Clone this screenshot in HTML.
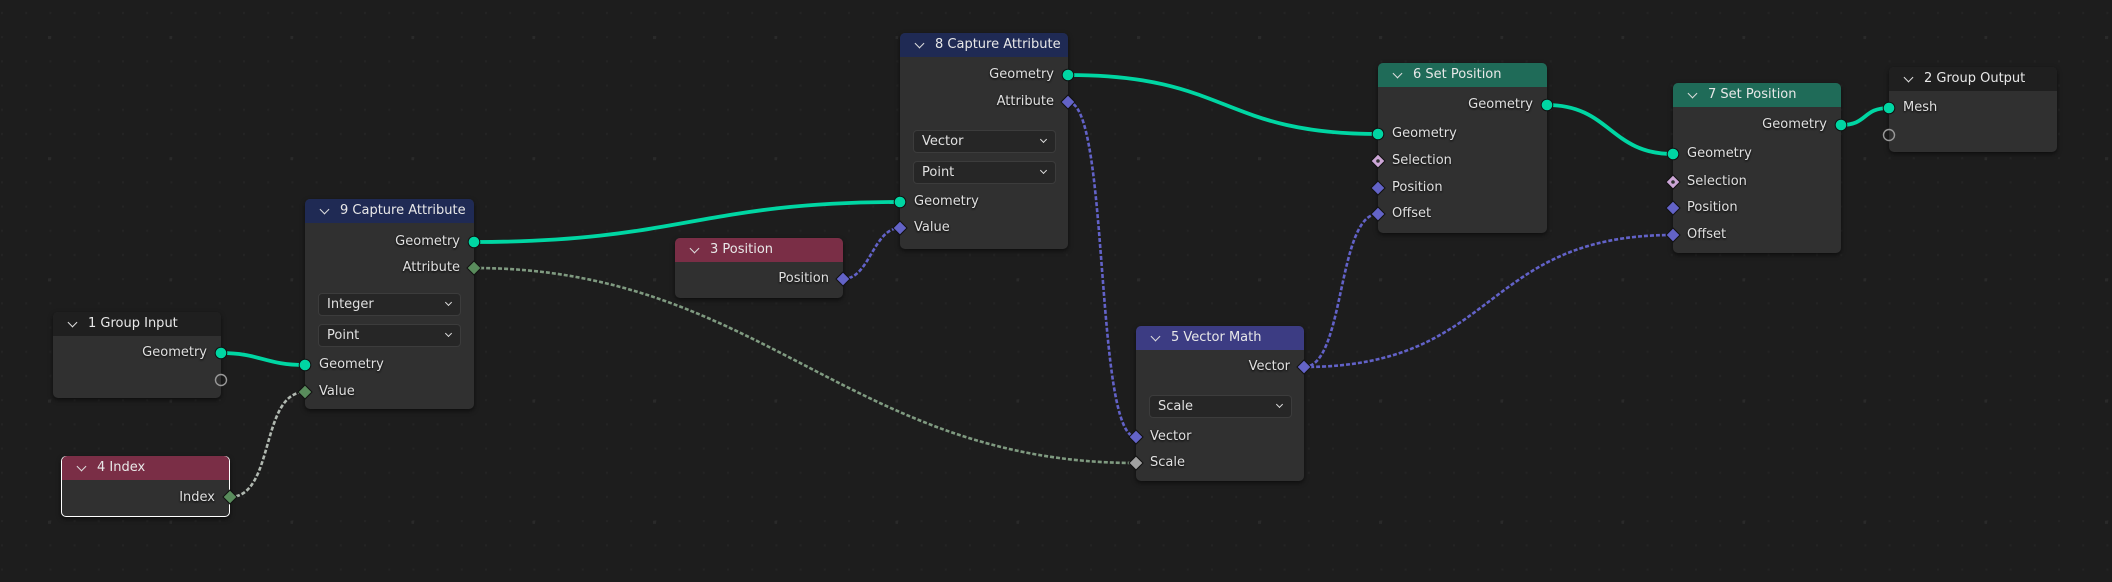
<!DOCTYPE html>
<html><head><meta charset="utf-8"><style>
*{margin:0;padding:0;box-sizing:border-box}
body{width:2112px;height:582px;background:#1d1d1d;overflow:hidden;position:relative;font-family:"DejaVu Sans","Liberation Sans",sans-serif;font-size:13px;color:#e0e0e0}
svg{position:absolute;left:0;top:0}
.n{position:absolute;background:#303030;border-radius:5px;box-shadow:0 2px 5px rgba(0,0,0,.55)}
.h{position:absolute;left:0;right:0;top:0;height:24px;border-radius:5px 5px 0 0;padding-left:35px;line-height:24px;font-size:13px;color:#e8e8e8}
.h:before{content:"";position:absolute;left:16px;top:7px;width:6px;height:6px;border-right:1.5px solid #ddd;border-bottom:1.5px solid #ddd;transform:rotate(45deg)}
.t{position:absolute;line-height:16px;white-space:nowrap;text-shadow:0 1px 2px #000}
.r{text-align:right}
.d{position:absolute;background:#262626;border:1px solid #3c3c3c;border-radius:4px;height:23px;line-height:21px;padding-left:8px;font-size:13px}
.d:after{content:"";position:absolute;right:9px;top:6px;width:4px;height:4px;border-right:1.3px solid #ddd;border-bottom:1.3px solid #ddd;transform:rotate(45deg)}
.cap{background:#1f2a54}.pos{background:#7a2e46}.set{background:#1f6b58}.grp{background:#1f1f1f}.vm{background:#3c3c83}
</style></head><body>
<svg width="2112" height="582">
<defs>
<pattern id="g" width="24.2" height="24.2" patternUnits="userSpaceOnUse" x="1" y="0"><rect x="0" y="12" width="2" height="2" fill="#242424"/></pattern>
<pattern id="G" width="121" height="121.2" patternUnits="userSpaceOnUse" x="48" y="36"><rect x="0" y="0" width="3" height="3" fill="#2a2a2a"/></pattern>
</defs>
<rect width="2112" height="582" fill="url(#g)"/>
<rect width="2112" height="582" fill="url(#G)"/>
<g fill="none" stroke-linecap="butt">
<path d="M221,353 C260,353 265,365 305,365" stroke="#00d6a3" stroke-width="3.8"/>
<path d="M474,242 C680,242 700,202 900,202" stroke="#00d6a3" stroke-width="3.8"/>
<path d="M1068,75 C1230,75 1220,134 1378,134" stroke="#00d6a3" stroke-width="3.8"/>
<path d="M1547,105 C1610,105 1610,154 1673,154" stroke="#00d6a3" stroke-width="3.8"/>
<path d="M1841,125 C1868,125 1862,108 1889,108" stroke="#00d6a3" stroke-width="3.8"/>
<g stroke="#6262c8" stroke-width="2.6" stroke-dasharray="4 2">
<path d="M843,279 C870,279 873,228 900,228"/>
<path d="M1068,102 C1110,102 1094,437 1136,437"/>
<path d="M1304,367 C1345,367 1337,214 1378,214"/>
<path d="M1304,367 C1500,367 1480,235 1673,235"/>
</g>
<g stroke-width="2.6" stroke-dasharray="4 2">
<path d="M474,268 C760,268 850,463 1136,463" stroke="#7f9a80"/>
<path d="M230,497 C275,497 260,392 305,392" stroke="#b0b8b0"/>
</g>
</g>
</svg>

<div class="n" style="left:53px;top:312px;width:168px;height:86px"><div class="h grp">1 Group Input</div>
<div class="t r" style="right:14px;top:33px">Geometry</div></div>

<div class="n" style="left:61px;top:456px;width:169px;height:61px;border:1.5px solid #fff"><div class="h pos" style="top:-1px">4 Index</div>
<div class="t r" style="right:14px;top:33px">Index</div></div>

<div class="n" style="left:305px;top:199px;width:169px;height:210px"><div class="h cap">9 Capture Attribute</div>
<div class="t r" style="right:14px;top:35px">Geometry</div>
<div class="t r" style="right:14px;top:61px">Attribute</div>
<div class="d" style="left:13px;top:94px;width:143px">Integer</div>
<div class="d" style="left:13px;top:125px;width:143px">Point</div>
<div class="t" style="left:14px;top:158px">Geometry</div>
<div class="t" style="left:14px;top:185px">Value</div></div>

<div class="n" style="left:675px;top:238px;width:168px;height:60px"><div class="h pos">3 Position</div>
<div class="t r" style="right:14px;top:33px">Position</div></div>

<div class="n" style="left:900px;top:33px;width:168px;height:216px"><div class="h cap">8 Capture Attribute</div>
<div class="t r" style="right:14px;top:34px">Geometry</div>
<div class="t r" style="right:14px;top:61px">Attribute</div>
<div class="d" style="left:13px;top:97px;width:143px">Vector</div>
<div class="d" style="left:13px;top:128px;width:143px">Point</div>
<div class="t" style="left:14px;top:161px">Geometry</div>
<div class="t" style="left:14px;top:187px">Value</div></div>

<div class="n" style="left:1136px;top:326px;width:168px;height:155px"><div class="h vm">5 Vector Math</div>
<div class="t r" style="right:14px;top:33px">Vector</div>
<div class="d" style="left:13px;top:69px;width:143px">Scale</div>
<div class="t" style="left:14px;top:103px">Vector</div>
<div class="t" style="left:14px;top:129px">Scale</div></div>

<div class="n" style="left:1378px;top:63px;width:169px;height:170px"><div class="h set">6 Set Position</div>
<div class="t r" style="right:14px;top:34px">Geometry</div>
<div class="t" style="left:14px;top:63px">Geometry</div>
<div class="t" style="left:14px;top:90px">Selection</div>
<div class="t" style="left:14px;top:117px">Position</div>
<div class="t" style="left:14px;top:143px">Offset</div></div>

<div class="n" style="left:1673px;top:83px;width:168px;height:170px"><div class="h set">7 Set Position</div>
<div class="t r" style="right:14px;top:34px">Geometry</div>
<div class="t" style="left:14px;top:63px">Geometry</div>
<div class="t" style="left:14px;top:91px">Selection</div>
<div class="t" style="left:14px;top:117px">Position</div>
<div class="t" style="left:14px;top:144px">Offset</div></div>

<div class="n" style="left:1889px;top:67px;width:168px;height:85px"><div class="h grp">2 Group Output</div>
<div class="t" style="left:14px;top:33px">Mesh</div></div>

<svg width="2112" height="582">
<g stroke="#111" stroke-width="1">
<g fill="#00d6a3">
<circle cx="221" cy="353" r="5.8"/><circle cx="305" cy="365" r="5.8"/><circle cx="474" cy="242" r="5.8"/>
<circle cx="900" cy="202" r="5.8"/><circle cx="1068" cy="75" r="5.8"/><circle cx="1378" cy="134" r="5.8"/>
<circle cx="1547" cy="105" r="5.8"/><circle cx="1673" cy="154" r="5.8"/><circle cx="1841" cy="125" r="5.8"/><circle cx="1889" cy="108" r="5.8"/>
</g>
<circle cx="221" cy="380" r="5.5" fill="none" stroke="#999" stroke-width="1.4"/>
<circle cx="1889" cy="135" r="5.5" fill="none" stroke="#999" stroke-width="1.4"/>
<g fill="#598c5c">
<path d="M474,261 l7,7 -7,7 -7,-7z"/><path d="M305,385 l7,7 -7,7 -7,-7z"/><path d="M230,490 l7,7 -7,7 -7,-7z"/>
</g>
<g fill="#6363c7">
<path d="M843,272 l7,7 -7,7 -7,-7z"/><path d="M900,221 l7,7 -7,7 -7,-7z"/><path d="M1068,95 l7,7 -7,7 -7,-7z"/>
<path d="M1304,360 l7,7 -7,7 -7,-7z"/><path d="M1136,430 l7,7 -7,7 -7,-7z"/>
<path d="M1378,181 l7,7 -7,7 -7,-7z"/><path d="M1378,207 l7,7 -7,7 -7,-7z"/>
<path d="M1673,201 l7,7 -7,7 -7,-7z"/><path d="M1673,228 l7,7 -7,7 -7,-7z"/>
</g>
<path d="M1136,456 l7,7 -7,7 -7,-7z" fill="#a1a1a1"/>
<g fill="#cca6d6"><path d="M1378,154 l7,7 -7,7 -7,-7z"/><path d="M1673,175 l7,7 -7,7 -7,-7z"/></g>
<g fill="#303030" stroke="none"><circle cx="1378" cy="161" r="1.8"/><circle cx="1673" cy="182" r="1.8"/></g>
</g>
</svg>
</body></html>
